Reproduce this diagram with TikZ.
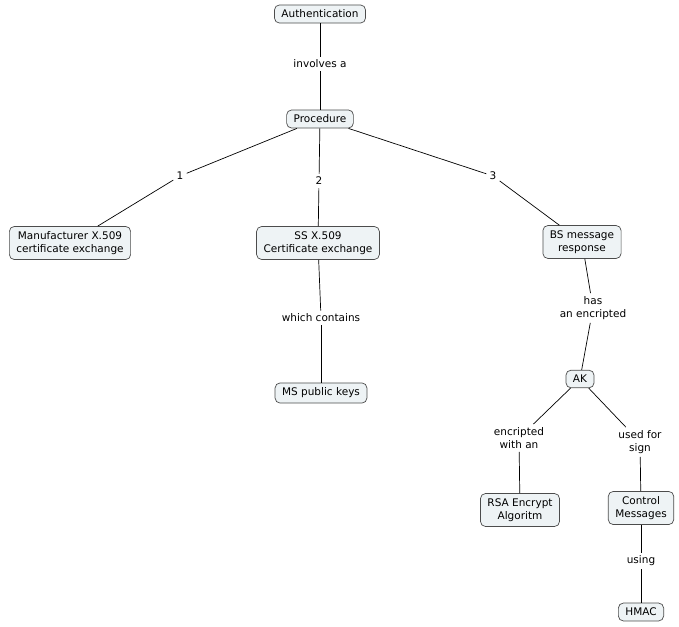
\documentclass[tikz,border=0pt]{standalone}
\usepackage{fontspec}
\setmainfont{DejaVu Sans}
\definecolor{boxfill}{HTML}{EEF3F5}
\tikzset{
  concept/.style={draw=black!70, fill=boxfill, rounded corners=5pt, align=center, font=\fontsize{10.5}{13}\selectfont, inner xsep=7pt, inner ysep=5pt},
  phrase/.style={align=center, font=\fontsize{10.5}{13}\selectfont, inner sep=3pt},
  every path/.style={line width=0.7pt},
}
\begin{document}
\begin{tikzpicture}[x=1pt, y=-1pt]
        \useasboundingbox (0,0) rectangle (679,626);
        % Concepts
        \node[concept] (auth) at (320, 14) {Authentication};
        \node[concept] (proc) at (320, 119) {Procedure};
        \node[concept] (manu) at (70, 243) {Manufacturer X.509\\certificate exchange};
        \node[concept] (ss) at (318, 243) {SS X.509\\Certificate exchange};
        \node[concept] (bs) at (582, 242) {BS message\\response};
        \node[concept] (ms) at (321, 393) {MS public keys};
        \node[concept] (ak) at (580, 379) {AK};
        \node[concept] (rsa) at (520, 510) {RSA Encrypt\\Algoritm};
        \node[concept] (ctrl) at (641, 508) {Control\\Messages};
        \node[concept] (hmac) at (641, 612) {HMAC};

        % Linking phrases
        \node[phrase] (involves) at (320, 64) {involves a};
        \node[phrase] (one) at (180, 176) {1};
        \node[phrase] (two) at (319, 181) {2};
        \node[phrase] (three) at (493, 176) {3};
        \node[phrase] (contains) at (321, 318) {which contains};
        \node[phrase] (has) at (593, 308) {has\\an encripted};
        \node[phrase] (encwith) at (519, 438) {encripted\\with an};
        \node[phrase] (usedfor) at (640, 442) {used for\\sign};
        \node[phrase] (using) at (641, 561) {using};

        % Lines
        \draw (auth) -- (involves);
        \draw (involves) -- (proc);
        \draw (proc) -- (one);
        \draw (one) -- (manu);
        \draw (proc) -- (two);
        \draw (two) -- (ss);
        \draw (proc) -- (three);
        \draw (three) -- (bs);
        \draw (ss) -- (contains);
        \draw (contains) -- (ms);
        \draw (bs) -- (has);
        \draw (has) -- (ak);
        \draw (ak) -- (encwith);
        \draw (encwith) -- (rsa);
        \draw (ak) -- (usedfor);
        \draw (usedfor) -- (ctrl);
        \draw (ctrl) -- (using);
        \draw (using) -- (hmac);
    \end{tikzpicture}
\end{document}
